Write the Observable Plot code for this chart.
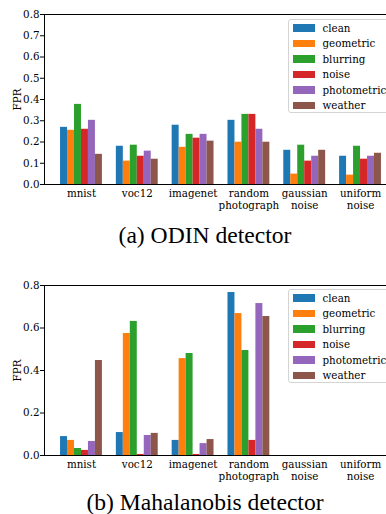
<!DOCTYPE html>
<html>
<head>
<meta charset="utf-8">
<script src="https://cdn.jsdelivr.net/npm/d3@7"></script>
<script src="https://cdn.jsdelivr.net/npm/@observablehq/plot@0.6"></script>
<style>
  html, body { margin: 0; padding: 0; background: #fff; }
  body { width: 386px; height: 514px; overflow: hidden; position: relative; }
  .chart { position: absolute; left: 0; width: 400px; height: 214px; }
  .chart svg { max-width: none !important; width: 400px !important; height: 214px !important; display: block; }
  .caption { position: absolute; left: 0; width: 410px; text-align: center;
    font-family: "Liberation Serif", serif; font-size: 23.6px; color: #000; line-height: 1; white-space: nowrap; }
  .legend { position: absolute; left: 287.5px; width: 130px; height: 94px; box-sizing: border-box;
    border: 1px solid #d4d4d4; border-radius: 3px; background: rgba(255,255,255,0.8);
    font-family: "DejaVu Serif", serif; font-size: 10.3px; color: #000; padding-top: 0px; }
  .row { height: 15.5px; display: flex; align-items: center; white-space: nowrap; }
  .sw { width: 22px; height: 7.5px; margin-left: 4px; margin-right: 8px; flex: none; }
</style>
</head>
<body>
<div id="chartA" class="chart" style="top:0px"></div>
<div id="legendA" class="legend" style="top:19px"></div>
<div class="caption" style="top:224px">(a) ODIN detector</div>
<div id="chartB" class="chart" style="top:271px"></div>
<div id="legendB" class="legend" style="top:289px"></div>
<div class="caption" style="top:491px">(b) Mahalanobis detector</div>
<script>
const categories = ["mnist", "voc12", "imagenet", "random\nphotograph", "gaussian\nnoise", "uniform\nnoise"];
const series = ["clean", "geometric", "blurring", "noise", "photometric", "weather"];
const colors = ["#1f77b4", "#ff7f0e", "#2ca02c", "#d62728", "#9467bd", "#8c564b"];

// (a) ODIN detector — FPR per category, one array per series
const odinClean       = [0.269, 0.180, 0.279, 0.302, 0.161, 0.133];
const odinGeometric   = [0.255, 0.110, 0.175, 0.199, 0.049, 0.044];
const odinBlurring    = [0.377, 0.185, 0.236, 0.330, 0.185, 0.180];
const odinNoise       = [0.260, 0.133, 0.218, 0.330, 0.110, 0.119];
const odinPhotometric = [0.302, 0.157, 0.236, 0.260, 0.133, 0.133];
const odinWeather     = [0.142, 0.119, 0.204, 0.199, 0.161, 0.147];

// (b) Mahalanobis detector
const mahaClean       = [0.089, 0.108, 0.071, 0.767, 0, 0];
const mahaGeometric   = [0.071, 0.574, 0.456, 0.668, 0, 0];
const mahaBlurring    = [0.033, 0.631, 0.480, 0.494, 0, 0];
const mahaNoise       = [0.024, 0.005, 0.005, 0.071, 0, 0];
const mahaPhotometric = [0.066, 0.094, 0.056, 0.715, 0, 0];
const mahaWeather     = [0.447, 0.104, 0.075, 0.654, 0, 0];

const odinTicks = [0, 0.1, 0.2, 0.3, 0.4, 0.5, 0.6, 0.7, 0.8];
const mahaTicks = [0, 0.2, 0.4, 0.6, 0.8];

const barWidth = 0.125; // in group units, as in matplotlib's grouped bars

function toRows(seriesArrays) {
  const rows = [];
  seriesArrays.forEach((vals, k) => {
    vals.forEach((v, i) => {
      const x1 = i + (k - series.length / 2) * barWidth;
      rows.push({category: categories[i], series: series[k], x1, x2: x1 + barWidth, value: v});
    });
  });
  return rows;
}

function chart(rows, yTicks) {
  const first = -series.length / 2 * barWidth;
  const last = categories.length - 1 + series.length / 2 * barWidth;
  const pad = 0.05 * (last - first);
  return Plot.plot({
    width: 400,
    height: 214,
    marginLeft: 44,
    marginRight: 3,
    marginTop: 14,
    marginBottom: 30,
    style: {fontFamily: "DejaVu Serif", fontSize: "10.3px", background: "transparent", color: "#000", overflow: "visible", maxWidth: "none"},
    x: {type: "linear", domain: [first - pad, last + pad]},
    y: {domain: [0, 0.8]},
    color: {domain: series, range: colors},
    marks: [
      Plot.rectY(rows, {x1: "x1", x2: "x2", y: "value", fill: "series", inset: 0}),
      Plot.axisX({ticks: d3.range(categories.length), tickFormat: i => categories[i], tickSize: 0, tickPadding: 4.5, lineHeight: 1.15, fontSize: 10.3, label: null}),
      Plot.axisY({ticks: yTicks, tickFormat: d3.format(".1f"), tickSize: 4, tickPadding: 1, fontSize: 10.3,
        label: "FPR", labelAnchor: "center", labelOffset: 31, labelArrow: "none"}),
      Plot.frame({stroke: "#000", strokeWidth: 1})
    ]
  });
}

function legend(el) {
  series.forEach((s, k) => {
    const row = document.createElement("div");
    row.className = "row";
    const sw = document.createElement("span");
    sw.className = "sw";
    sw.style.background = colors[k];
    const t = document.createElement("span");
    t.textContent = s;
    row.appendChild(sw);
    row.appendChild(t);
    el.appendChild(row);
  });
}

document.getElementById("chartA").appendChild(chart(toRows([odinClean, odinGeometric, odinBlurring, odinNoise, odinPhotometric, odinWeather]), odinTicks));
document.getElementById("chartB").appendChild(chart(toRows([mahaClean, mahaGeometric, mahaBlurring, mahaNoise, mahaPhotometric, mahaWeather]), mahaTicks));
legend(document.getElementById("legendA"));
legend(document.getElementById("legendB"));
</script>
</body>
</html>
